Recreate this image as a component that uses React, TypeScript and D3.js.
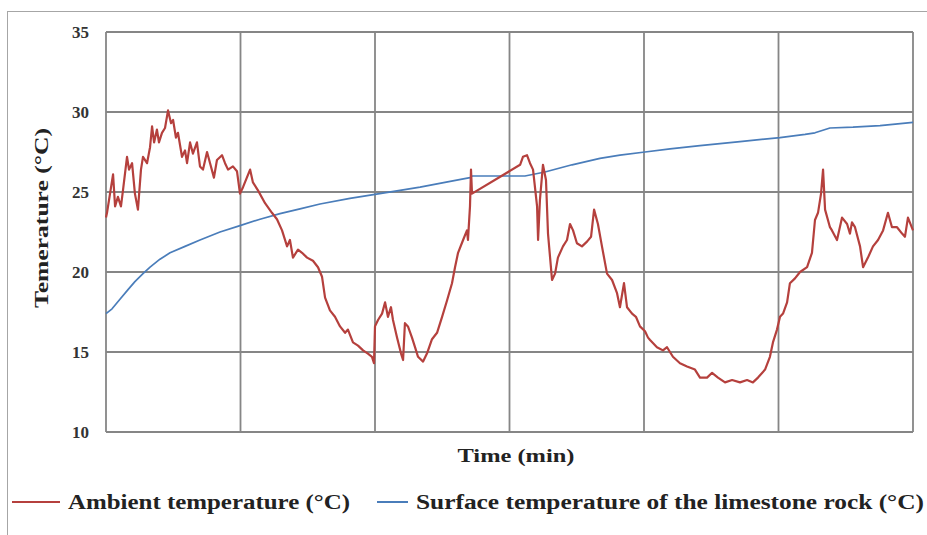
import React from "react";
import * as d3 from "d3";

// Time in hours (6 grid intervals of 8 h), temperatures in °C
const ambientTime = [
  0, 0.06, 0.24, 0.42, 0.54, 0.71, 0.89, 1.01, 1.25, 1.37, 1.55, 1.72, 1.9, 2.08, 2.2, 2.44, 2.62, 2.74, 2.86, 3.03,
  3.15, 3.33, 3.51, 3.69, 3.87, 3.99, 4.16, 4.28, 4.52, 4.7, 4.82, 5.0, 5.17, 5.41, 5.59, 5.77, 6.01, 6.19, 6.42, 6.6,
  6.9, 7.08, 7.26, 7.55, 7.79, 7.97, 8.15, 8.57, 8.74, 9.04, 9.46, 9.87, 10.17, 10.47, 10.77, 10.94, 11.12, 11.42, 11.66, 11.96,
  12.31, 12.61, 12.85, 13.03, 13.32, 13.62, 13.92, 14.22, 14.39, 14.69, 14.99, 15.29, 15.58, 15.82, 15.94, 16.0, 16.18, 16.42, 16.6, 16.77,
  16.95, 17.07, 17.31, 17.55, 17.67, 17.78, 17.96, 18.2, 18.38, 18.56, 18.86, 19.09, 19.39, 19.69, 19.99, 20.28, 20.58, 20.76, 20.94, 21.24,
  21.47, 21.53, 21.65, 21.71, 21.77, 24.63, 24.8, 25.04, 25.22, 25.4, 25.64, 25.7, 25.81, 25.99, 26.17, 26.29, 26.53, 26.71, 26.88, 27.18,
  27.42, 27.6, 27.78, 28.01, 28.31, 28.61, 28.85, 29.03, 29.26, 29.5, 29.8, 30.1, 30.39, 30.57, 30.81, 30.99, 31.29, 31.52, 31.76, 32.06,
  32.24, 32.36, 32.77, 33.13, 33.37, 33.72, 34.14, 34.56, 35.03, 35.33, 35.75, 36.05, 36.4, 36.82, 37.24, 37.71, 38.13, 38.48, 38.78, 39.2,
  39.49, 39.67, 39.91, 40.09, 40.27, 40.51, 40.68, 40.98, 41.28, 41.7, 41.99, 42.17, 42.35, 42.53, 42.65, 42.77, 43.06, 43.18, 43.48, 43.78,
  44.08, 44.25, 44.37, 44.55, 44.85, 45.03, 45.32, 45.62, 45.92, 46.22, 46.51, 46.75, 47.05, 47.35, 47.52, 47.7, 48.0,
];
const ambientTemp = [
  23.4, 23.7, 24.9, 26.1, 24.1, 24.7, 24.1, 25.1, 27.2, 26.4, 26.8, 24.9, 23.9, 26.4, 27.2, 26.8, 27.8, 29.1, 28.1, 28.9,
  28.1, 28.7, 29.0, 30.1, 29.3, 29.5, 28.4, 28.7, 27.2, 27.6, 26.8, 28.1, 27.4, 28.1, 26.6, 26.4, 27.5, 26.8, 25.9, 27.0,
  27.3, 26.8, 26.4, 26.6, 26.3, 24.9, 25.3, 26.4, 25.6, 25.1, 24.3, 23.7, 23.3, 22.6, 21.6, 22.0, 20.9, 21.4, 21.2, 20.9,
  20.7, 20.3, 19.7, 18.4, 17.6, 17.2, 16.6, 16.2, 16.4, 15.6, 15.4, 15.1, 14.9, 14.7, 14.3, 16.6, 17.0, 17.4, 18.1, 17.2,
  17.8, 17.0, 15.9, 14.9, 14.5, 16.8, 16.6, 15.9, 15.3, 14.7, 14.4, 14.9, 15.8, 16.2, 17.2, 18.2, 19.3, 20.3, 21.2, 22.0,
  22.6, 22.0, 24.1, 26.4, 24.9, 26.7, 27.2, 27.3, 26.8, 26.4, 24.1, 22.0, 24.5, 26.7, 25.75, 22.4, 19.5, 19.9, 20.9, 21.6,
  22.0, 23.0, 22.6, 21.8, 21.6, 21.9, 22.2, 23.9, 23.0, 21.6, 19.9, 19.5, 18.7, 17.8, 19.3, 17.8, 17.4, 17.2, 16.6, 16.3,
  15.9, 15.75, 15.3, 15.1, 15.3, 14.7, 14.3, 14.1, 13.9, 13.4, 13.4, 13.7, 13.4, 13.1, 13.25, 13.1, 13.25, 13.1, 13.4, 13.9,
  14.7, 15.6, 16.4, 17.2, 17.4, 18.1, 19.3, 19.6, 20.0, 20.3, 21.2, 23.25, 23.7, 24.9, 26.4, 23.9, 22.8, 22.6, 22.0, 23.4,
  23.0, 22.4, 23.1, 22.8, 21.6, 20.3, 20.9, 21.6, 22.0, 22.6, 23.7, 22.8, 22.8, 22.4, 22.2, 23.4, 22.6,
];

const surfaceTime = [
  0, 0.36, 0.83, 1.31, 1.72, 2.2, 2.62, 3.21, 3.81, 4.7, 5.59, 6.78, 7.97, 9.16, 10.35, 11.54, 12.73, 14.51, 16.0, 17.49,
  18.68, 20.16, 21.65, 21.77, 24.92, 26.11, 27.72, 29.38, 30.57, 32.06, 33.55, 35.33, 37.71, 40.09, 41.58, 42.17, 43.06, 44.43, 46.04, 48.0,
];
const surfaceTemp = [
  17.4, 17.7, 18.3, 18.9, 19.4, 19.9, 20.3, 20.8, 21.2, 21.6, 22.0, 22.5, 22.9, 23.3, 23.65, 23.95, 24.25, 24.6, 24.85, 25.1,
  25.3, 25.6, 25.9, 26.0, 26.0, 26.25, 26.7, 27.1, 27.3, 27.5, 27.7, 27.9, 28.15, 28.4, 28.6, 28.7, 29.0, 29.05, 29.15, 29.35,
];

const yTicks = [10, 15, 20, 25, 30, 35];
const xGrid = [0, 8, 16, 24, 32, 40, 48];

const seriesNames = ["Ambient temperature (°C)", "Surface temperature of the limestone rock (°C)"];
const seriesColors = ["#b5403d", "#4a7dba"];

const W = 927;
const H = 535;
const M = { left: 106, right: 913, top: 32, bottom: 432 };
const FONT = "'Liberation Serif', 'Times New Roman', serif";

export default function App() {
  const x = d3.scaleLinear().domain([0, 48]).range([M.left, M.right]);
  const y = d3.scaleLinear().domain([10, 35]).range([M.bottom, M.top]);

  const line = d3
    .line<[number, number]>()
    .x((d) => x(d[0]))
    .y((d) => y(d[1]));

  const ambient = ambientTime.map((t, i) => [t, ambientTemp[i]] as [number, number]);
  const surface = surfaceTime.map((t, i) => [t, surfaceTemp[i]] as [number, number]);

  const gridColor = "#868686";

  return (
    <svg
      width={W}
      height={H}
      style={{ position: "absolute", left: 0, top: 0, background: "#fff" }}
      fontFamily={FONT}
    >
      <rect x={7.5} y={11.5} width={W} height={H} fill="none" stroke="#a6a6a6" strokeWidth={1} />

      {/* grid */}
      {yTicks.map((v) => (
        <line key={"h" + v} x1={M.left} x2={M.right} y1={y(v)} y2={y(v)} stroke={gridColor} strokeWidth={1.8} />
      ))}
      {xGrid.map((v) => (
        <line key={"v" + v} x1={x(v)} x2={x(v)} y1={M.top} y2={M.bottom} stroke={gridColor} strokeWidth={1.8} />
      ))}

      {/* y tick labels */}
      {yTicks.map((v) => (
        <text
          key={"t" + v}
          x={89}
          y={y(v)}
          dy="0.36em"
          textAnchor="end"
          fontSize={17}
          fontWeight="bold"
          fill="#333"
        >
          {v}
        </text>
      ))}

      {/* series */}
      <path d={line(surface) || ""} fill="none" stroke={seriesColors[1]} strokeWidth={1.7} strokeLinejoin="round" />
      <path d={line(ambient) || ""} fill="none" stroke={seriesColors[0]} strokeWidth={2.2} strokeLinejoin="round" />

      {/* axis titles */}
      <text
        transform={`translate(48, ${218}) rotate(-90)`}
        textAnchor="middle"
        fontSize={19}
        fontWeight="bold"
        fill="#222"
        textLength={180}
        lengthAdjust="spacingAndGlyphs"
      >
        Temerature (°C)
      </text>
      <text
        x={516}
        y={462}
        textAnchor="middle"
        fontSize={19}
        fontWeight="bold"
        fill="#222"
        textLength={117}
        lengthAdjust="spacingAndGlyphs"
      >
        Time (min)
      </text>

      {/* legend */}
      <line x1={12} x2={60} y1={502} y2={502} stroke={seriesColors[0]} strokeWidth={2} />
      <text x={68} y={509} fontSize={20} fontWeight="bold" fill="#222" textLength={282} lengthAdjust="spacingAndGlyphs">
        {seriesNames[0]}
      </text>
      <line x1={377} x2={408} y1={502} y2={502} stroke={seriesColors[1]} strokeWidth={2} />
      <text x={416} y={509} fontSize={20} fontWeight="bold" fill="#222" textLength={508} lengthAdjust="spacingAndGlyphs">
        {seriesNames[1]}
      </text>
    </svg>
  );
}
